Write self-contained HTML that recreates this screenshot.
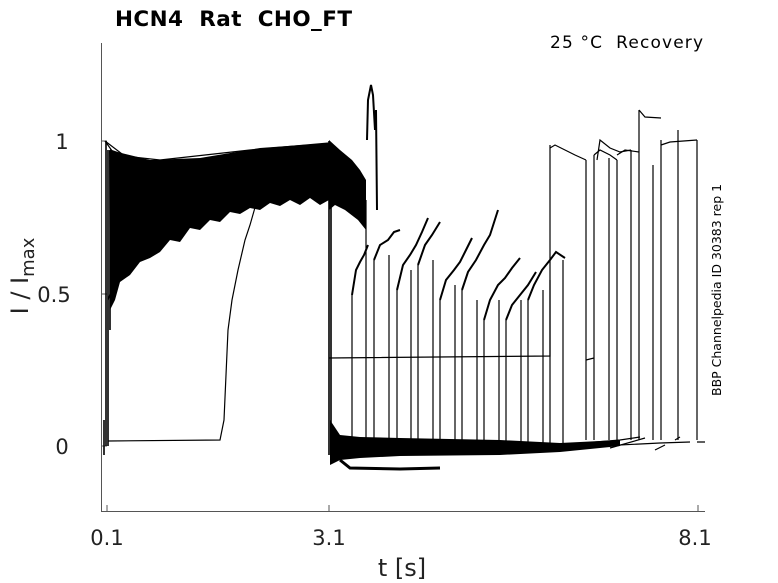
<!DOCTYPE html>
<html><head><meta charset="utf-8"><style>
body{margin:0;background:#fff}
svg{display:block;font-family:"DejaVu Sans","Liberation Sans",sans-serif}
</style></head><body>
<svg width="778" height="583" viewBox="0 0 778 583" xmlns="http://www.w3.org/2000/svg">
<rect width="778" height="583" fill="#fff"/>
<g stroke="#555" stroke-width="1" fill="none">
<path d="M101.5 43V511.5H705"/>
<path d="M101 141h6M101 294h6M101 446h6M107 511v-6M329 511v-6M698 511v-6"/>
</g>
<g font-size="21" fill="#222" text-anchor="middle">
<text x="62" y="149">1</text>
<text x="54" y="302">0.5</text>
<text x="62" y="454">0</text>
<text x="107" y="545">0.1</text>
<text x="329" y="545">3.1</text>
<text x="695" y="545">8.1</text>
<text x="402" y="576" font-size="24">t [s]</text>
</g>
<text transform="translate(28 276) rotate(-90)" font-size="24" fill="#222" text-anchor="middle">I / I<tspan font-size="18" dy="6">max</tspan></text>
<text x="115" y="26" font-size="21.5" font-weight="bold" fill="#000" textLength="237">HCN4&#160; Rat&#160; CHO_FT</text>
<text x="703" y="48" font-size="17" fill="#000" text-anchor="end" textLength="153">25 °C&#160; Recovery</text>
<text transform="translate(721 396) rotate(-90)" font-size="12.5" fill="#000">BBP Channelpedia ID 30383 rep 1</text>

<g stroke="#000" fill="none" stroke-width="1.2">
<path fill="#000" stroke="none" d="M109 150 L150 160 L200 158 L260 148 L329 143 L329 200 L320 205 L310 198 L300 205 L290 200 L280 206 L270 203 L260 210 L250 208 L240 214 L230 212 L220 222 L210 220 L200 230 L190 228 L180 242 L170 240 L160 252 L150 258 L140 262 L130 275 L120 282 L115 300 L110 310 Z"/>
<path d="M105 141 L115 155 L160 160 L250 150 L329 143"/>
<path d="M105 141 L130 160 L150 165 L200 162 L260 150 L329 145"/>
<path d="M110 150 L140 160 L170 170 L200 168 L260 158"/>
<path stroke-width="1.6" d="M106 446 V141 M108 446 V150 M110 330 V160 M104 455 V420"/>
<path d="M108 300 L115 280 L120 240 L125 220 L130 200 L135 180"/>
<path d="M108 441 L220 440 L224 420 L228 330 L232 300 L238 270 L245 240 L250 225 L260 190"/>
<path stroke-width="1.6" d="M329 141 V455 M331 150 V458"/>
<path fill="#000" stroke="none" d="M329 140 L340 150 L352 160 L360 170 L366 180 L366 230 L358 220 L345 210 L335 205 L329 210 Z"/>
<path stroke-width="2" d="M367 140 L368 100 L371 85 L373 95 L375 130 L376 110 L377 210"/>
<path fill="#000" stroke="none" d="M330 420 L340 435 L360 437 L400 438 L500 440 L560 443 L620 440 L620 446 L560 452 L500 455 L400 456 L360 458 L340 460 L330 465 Z"/>
<path stroke-width="3" d="M340 460 L350 468 L400 469 L440 468"/>
<path d="M329 358 L550 356 V145"/>
<path d="M352 445V295 M366 445V200 M374 445V260 M389 445V255 M397 445V290 M411 445V270 M418 445V265 M433 445V260 M440 445V300 M455 445V285 M462 445V290 M477 445V300 M484 445V320 M499 445V300 M506 445V320 M521 445V300 M528 445V300 M543 445V290 M550 445V280 M563 445V260 M586 440V160 M594 440V155 M609 440V158 M617 440V160 M631 440V150 M639 440V110 M653 440V165 M661 440V140 M678 440V130 M697 440V140"/>
<g stroke-width="2">
<path d="M352 295 L356 270 L360 262 L364 255 L368 245"/>
<path d="M374 260 L380 245 L388 240 L394 232 L400 230"/>
<path d="M397 290 L403 265 L410 255 L416 245 L422 232 L428 218"/>
<path d="M418 265 L425 245 L432 235 L440 222"/>
<path d="M440 300 L446 280 L454 270 L460 262 L466 250 L472 238"/>
<path d="M462 290 L468 272 L476 260 L484 245 L490 235 L498 210"/>
<path d="M484 320 L490 300 L498 285 L505 278 L512 268 L520 258"/>
<path d="M506 320 L512 305 L520 295 L528 285 L536 272"/>
<path d="M528 300 L534 285 L542 270 L550 260 L556 252 L565 258"/>
</g>
<path d="M550 148 L555 145 L565 150 L575 155 L586 160"/>
<path d="M586 360 L594 358 M594 155 L600 150 L610 155 L617 160"/>
<path d="M597 160 L600 140 L610 148 L620 152 L631 150"/>
<path d="M617 155 L625 150 L639 152"/>
<path d="M639 110 L645 117 L661 118"/>
<path d="M661 145 L670 142 L697 140"/>
<path d="M560 445 L620 440 L640 437 M560 448 L660 443 L690 442"/>
<path d="M610 448 L645 438 M655 450 L665 445 M675 440 L680 437 M697 442 L705 442"/>
</g>
</svg>
</body></html>
